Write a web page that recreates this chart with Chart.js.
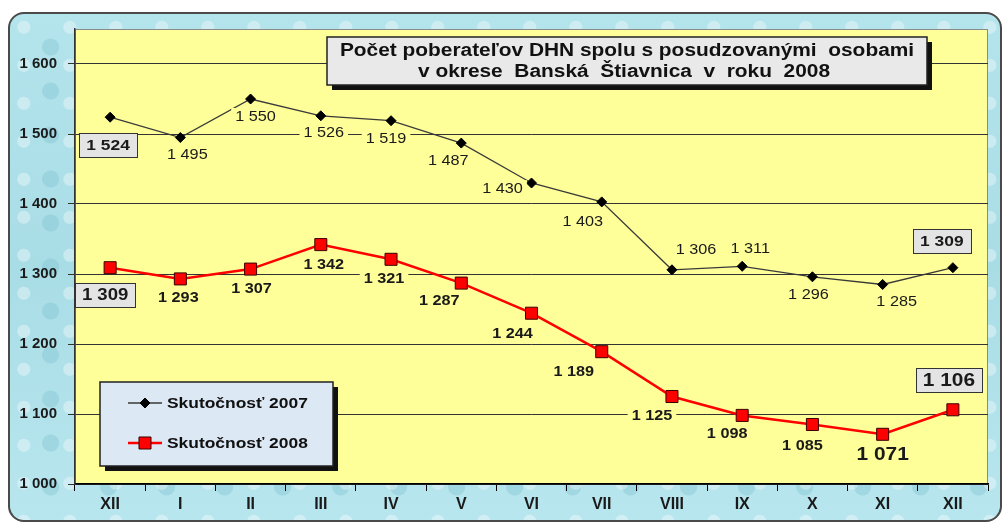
<!DOCTYPE html>
<html>
<head>
<meta charset="utf-8">
<script src="https://cdn.jsdelivr.net/npm/chart.js@4.4.1/dist/chart.umd.min.js"></script>
<style>
  html, body { margin: 0; padding: 0; background: #ffffff; overflow: hidden; }
  #wrap { position: relative; width: 1003px; height: 523px; overflow: hidden; }
  #frame {
    position: absolute; left: 8px; top: 12px; width: 990px; height: 506px;
    border: 2px solid #4a4a4a; border-radius: 16px;
    background:
      radial-gradient(circle at 30% 35%, rgba(255,255,255,0.35) 0 6px, transparent 7px) 0 0 / 46px 38px,
      radial-gradient(circle at 70% 75%, rgba(120,190,205,0.35) 0 8px, transparent 9px) 0 0 / 58px 44px,
      linear-gradient(180deg, #b4e4ec 0%, #a9dde6 50%, #b8e6ee 100%);
  }
  canvas { position: absolute; left: 0; top: 0; }
</style>
</head>
<body>
<div id="wrap">
  <div id="frame"></div>
  <canvas id="chart" width="1003" height="523"></canvas>
</div>
<script>
const months = ["XII", "I", "II", "III", "IV", "V", "VI", "VII", "VIII", "IX", "X", "XI", "XII"];
const actual2007 = [1524, 1495, 1550, 1526, 1519, 1487, 1430, 1403, 1306, 1311, 1296, 1285, 1309];
const actual2008 = [1309, 1293, 1307, 1342, 1321, 1287, 1244, 1189, 1125, 1098, 1085, 1071, 1106];
const yTicks = [1000, 1100, 1200, 1300, 1400, 1500, 1600];
const seriesNames = ["Skutočnosť 2007", "Skutočnosť 2008"];
const titleLines = ["Počet poberateľov DHN spolu s posudzovanými  osobami", "v okrese  Banská  Štiavnica  v  roku  2008"];

// label offsets from each point (px), first/last labels are boxed
const offsets2007 = [[-2, 28], [7, 17], [5, 17], [3, 16], [-5, 17], [-13, 17], [-29, 5], [-19, 19], [24, -21], [8, -18], [-4, 17], [14, 17], [-11, -27]];
const offsets2008 = [[-5, 27], [-2, 18], [1, 19], [3, 20], [-7, 19], [-22, 17], [-19, 20], [-28, 19], [-20, 19], [-15, 18], [-10, 21], [0, 20], [-4, -30]];

const FONT = "Arial, 'Liberation Sans', sans-serif";
const PLOT_BG = "#ffff99";
const STRETCH = 1.16; // the original text is a bit wide

const fmt = v => String(v).replace(/\B(?=(\d{3})+(?!\d))/g, " ");

function wideText(ctx, text, x, y, align) {
  ctx.save();
  ctx.translate(x, y);
  ctx.scale(STRETCH, 1);
  ctx.textAlign = align || "center";
  ctx.textBaseline = "middle";
  ctx.fillText(text, 0, 0);
  ctx.restore();
}

const plotBackground = {
  id: "plotBackground",
  beforeDraw(chart) {
    const { ctx, chartArea: a } = chart;
    ctx.save();
    ctx.fillStyle = PLOT_BG;
    ctx.fillRect(a.left, a.top, a.right - a.left, a.bottom - a.top);
    ctx.strokeStyle = "#8a8a8a";
    ctx.lineWidth = 1;
    ctx.strokeRect(a.left + 0.5, a.top + 0.5, a.right - a.left - 1, a.bottom - a.top);
    ctx.restore();
  }
};

function drawLabel(ctx, text, x, y, font, boxed) {
  ctx.font = font;
  const w = ctx.measureText(text).width * STRETCH;
  if (boxed) {
    const bw = Math.round(w + 14), bh = 24;
    const bx = Math.round(x - bw / 2), by = Math.round(y - bh / 2);
    ctx.fillStyle = "#e4e4e4";
    ctx.fillRect(bx, by, bw, bh);
    ctx.strokeStyle = "#333";
    ctx.lineWidth = 1;
    ctx.strokeRect(bx + 0.5, by + 0.5, bw, bh);
  } else {
    ctx.fillStyle = PLOT_BG;
    ctx.fillRect(x - w / 2 - 4, y - 8, w + 8, 16);
  }
  ctx.fillStyle = "#1a1a1a";
  wideText(ctx, text, x, y + 1);
}

const pointLabels = {
  id: "pointLabels",
  afterDatasetsDraw(chart) {
    const ctx = chart.ctx;
    ctx.save();
    const last = months.length - 1;
    chart.getDatasetMeta(0).data.forEach((pt, i) => {
      const boxed = i === 0 || i === last;
      const font = boxed ? "bold 15px " + FONT : "14px " + FONT;
      drawLabel(ctx, fmt(actual2007[i]), pt.x + offsets2007[i][0], pt.y + offsets2007[i][1], font, boxed);
    });
    chart.getDatasetMeta(1).data.forEach((pt, i) => {
      const boxed = i === 0 || i === last;
      let font = "bold 14px " + FONT;
      if (i === 0) font = "bold 16px " + FONT;
      if (i >= last - 1) font = "bold 18px " + FONT;
      drawLabel(ctx, fmt(actual2008[i]), pt.x + offsets2008[i][0], pt.y + offsets2008[i][1], font, boxed);
    });
    ctx.restore();
  }
};

function shadowBox(ctx, x, y, w, h, fill) {
  ctx.fillStyle = "#111";
  ctx.fillRect(x + 5, y + 5, w, h);
  ctx.fillStyle = fill;
  ctx.fillRect(x, y, w, h);
  ctx.strokeStyle = "#222";
  ctx.lineWidth = 1.5;
  ctx.strokeRect(x, y, w, h);
}

const overlays = {
  id: "overlays",
  afterDraw(chart) {
    const ctx = chart.ctx;
    ctx.save();
    // title box
    shadowBox(ctx, 327, 37, 600, 48, "#e9e9e9");
    ctx.fillStyle = "#111";
    ctx.font = "bold 18px " + FONT;
    wideText(ctx, titleLines[0], 627, 51);
    wideText(ctx, titleLines[1], 624, 72);

    // legend box
    shadowBox(ctx, 100, 382, 233, 84, "#dce8f4");
    chart.data.datasets.forEach((ds, i) => {
      const y = 403 + i * 40;
      ctx.strokeStyle = ds.borderColor;
      ctx.lineWidth = ds.borderWidth;
      ctx.beginPath();
      ctx.moveTo(128, y);
      ctx.lineTo(162, y);
      ctx.stroke();
      ctx.fillStyle = ds.pointBackgroundColor;
      ctx.strokeStyle = ds.pointBorderColor;
      ctx.lineWidth = ds.pointBorderWidth;
      Chart.helpers.drawPoint(ctx, {
        pointStyle: ds.pointStyle,
        radius: ds.pointRadius,
        borderWidth: ds.pointBorderWidth
      }, 145, y);
      ctx.fillStyle = "#111";
      ctx.font = "bold 15px " + FONT;
      wideText(ctx, ds.label, 167, y + 1, "left");
    });
    ctx.restore();
  }
};

new Chart(document.getElementById("chart"), {
  type: "line",
  data: {
    labels: months,
    datasets: [{
      label: seriesNames[0],
      data: actual2007,
      borderColor: "#3a3a3a",
      borderWidth: 1.3,
      pointStyle: "rectRot",
      pointRadius: 5,
      pointBackgroundColor: "#000000",
      pointBorderColor: "#000000",
      pointBorderWidth: 1,
      tension: 0
    }, {
      label: seriesNames[1],
      data: actual2008,
      borderColor: "#ff0000",
      borderWidth: 2.5,
      pointStyle: "rect",
      pointRadius: 8.5,
      pointBackgroundColor: "#ff0000",
      pointBorderColor: "#3a0000",
      pointBorderWidth: 1,
      tension: 0
    }]
  },
  options: {
    responsive: false,
    animation: false,
    layout: { padding: { top: 29, right: 15, left: 0, bottom: 0 } },
    scales: {
      x: {
        offset: true,
        grid: { drawOnChartArea: false, tickLength: 7, color: "#000", offset: true },
        border: { color: "#000", width: 1.5 },
        ticks: { color: "#1a1a1a", font: { family: FONT, size: 16, weight: "bold" }, padding: 4 },
        afterFit: scale => { scale.height = 39; }
      },
      y: {
        min: 1000,
        max: 1650,
        afterBuildTicks: scale => { scale.ticks = yTicks.map(v => ({ value: v })); },
        grid: { color: "#333", lineWidth: 1, tickLength: 7 },
        border: { color: "#333", width: 1.5 },
        ticks: { color: "#1a1a1a", font: { family: FONT, size: 15, weight: "bold" }, padding: 11, callback: v => fmt(v) },
        afterFit: scale => { scale.width = 75; }
      }
    },
    plugins: {
      legend: { display: false },
      title: { display: false },
      tooltip: { enabled: false }
    }
  },
  plugins: [plotBackground, pointLabels, overlays]
});
</script>
</body>
</html>
